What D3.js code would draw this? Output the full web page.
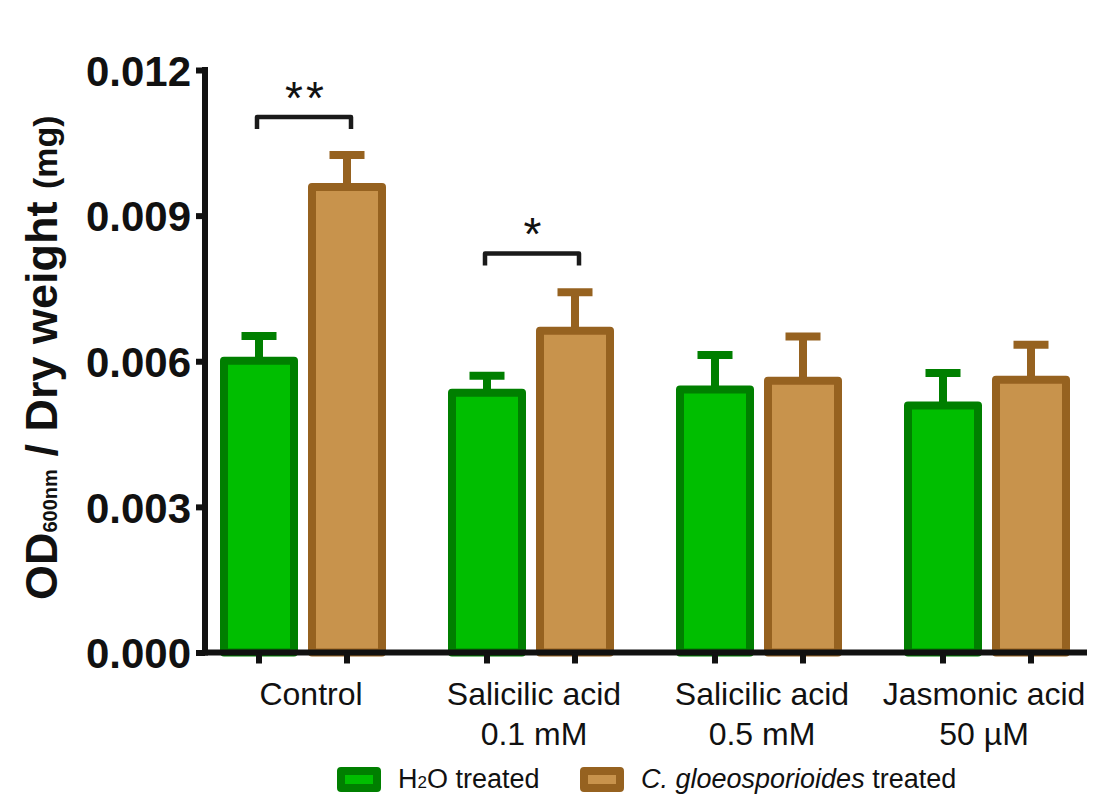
<!DOCTYPE html>
<html>
<head>
<meta charset="utf-8">
<script src="https://cdn.jsdelivr.net/npm/d3@7"></script>
<style>
  html, body { margin: 0; padding: 0; background: #ffffff; }
  svg { display: block; }
  text { font-family: "Liberation Sans", Arial, sans-serif; fill: #111; }
</style>
</head>
<body>
<svg id="chart" width="1094" height="795"></svg>
<script>
// ---- data ----
const categoryLine1 = ["Control", "Salicilic acid", "Salicilic acid", "Jasmonic acid"];
const categoryLine2 = ["", "0.1 mM", "0.5 mM", "50 \u00B5M"];
const seriesNames = ["H2O treated", "C. gloeosporioides treated"];
const h2oMean = [0.00601, 0.00535, 0.00542, 0.00509];
const h2oErr  = [0.00051, 0.00035, 0.00071, 0.00067];
const cgMean  = [0.00959, 0.00663, 0.00560, 0.00562];
const cgErr   = [0.00066, 0.00079, 0.00091, 0.00072];
const yTicks = [0, 0.003, 0.006, 0.009, 0.012];
const yTickLabels = ["0.000", "0.003", "0.006", "0.009", "0.012"];
const sigGroupIdx = [0, 1];
const sigLabels = ["**", "*"];
const sigLevels = [0.01103, 0.00822];

// ---- styles ----
const fills = ["#00BE00", "#C8934C"];
const strokes = ["#007F00", "#966220"];
const barW = 70, barStroke = 8;
const labelNudge = [8, 3, 3, -3];

const svg = d3.select("#chart");

const y = d3.scaleLinear().domain([0, 0.012]).range([652.5, 70]);
const x0 = d3.scaleBand().domain(d3.range(categoryLine1.length)).range([189, 1101]).padding(0);
const x1 = d3.scaleBand().domain(d3.range(seriesNames.length)).range([-88, 88]).padding(0);

const bars = [];
categoryLine1.forEach((c, i) => {
  bars.push({g: i, s: 0, v: h2oMean[i], e: h2oErr[i]});
  bars.push({g: i, s: 1, v: cgMean[i], e: cgErr[i]});
});
const cx = d => x0(d.g) + x0.bandwidth() / 2 + x1(d.s) + x1.bandwidth() / 2;

// error bars (upper only)
const eb = svg.append("g");
bars.forEach(d => {
  const col = strokes[d.s];
  eb.append("line")
    .attr("x1", cx(d)).attr("x2", cx(d))
    .attr("y1", y(d.v)).attr("y2", y(d.v + d.e))
    .attr("stroke", col).attr("stroke-width", 8);
  eb.append("line")
    .attr("x1", cx(d) - 17.5).attr("x2", cx(d) + 17.5)
    .attr("y1", y(d.v + d.e)).attr("y2", y(d.v + d.e))
    .attr("stroke", col).attr("stroke-width", 8);
});

// bars
svg.append("g").selectAll("rect").data(bars).join("rect")
  .attr("x", d => cx(d) - barW / 2)
  .attr("width", barW)
  .attr("y", d => y(d.v))
  .attr("height", d => y(0) - y(d.v))
  .attr("fill", d => fills[d.s])
  .attr("stroke", d => strokes[d.s])
  .attr("stroke-width", barStroke)
  .attr("stroke-linejoin", "round");

// axes
const axisCol = "#111";
const yAxis = d3.axisLeft(y).tickValues(yTicks).tickFormat((d, i) => yTickLabels[i]).tickSize(9).tickPadding(5);
const gy = svg.append("g").attr("transform", "translate(205,0)").call(yAxis);
gy.select(".domain").remove();
gy.selectAll(".tick line").attr("stroke", axisCol).attr("stroke-width", 6);
gy.selectAll(".tick text")
  .attr("font-size", 42).attr("font-weight", "bold")
  .attr("font-family", "'Liberation Sans', Arial, sans-serif")
  .attr("fill", axisCol).attr("dy", "0.36em");

svg.append("line").attr("x1", 205).attr("x2", 205)
  .attr("y1", y(0.012) - 3).attr("y2", y(0) + 3)
  .attr("stroke", axisCol).attr("stroke-width", 6);
svg.append("line").attr("x1", 202).attr("x2", 1087)
  .attr("y1", y(0)).attr("y2", y(0))
  .attr("stroke", axisCol).attr("stroke-width", 6);

// x ticks at each bar
svg.append("g").selectAll("line").data(bars).join("line")
  .attr("x1", cx).attr("x2", cx)
  .attr("y1", y(0)).attr("y2", y(0) + 11)
  .attr("stroke", axisCol).attr("stroke-width", 6);

// x category labels
const xl = svg.append("g");
categoryLine1.forEach((c, i) => {
  const gx = x0(i) + x0.bandwidth() / 2 + labelNudge[i];
  xl.append("text").attr("x", gx).attr("y", 705).attr("text-anchor", "middle")
    .attr("font-size", 32).text(c);
  if (categoryLine2[i]) {
    xl.append("text").attr("x", gx).attr("y", 745).attr("text-anchor", "middle")
      .attr("font-size", 32).text(categoryLine2[i]);
  }
});

// y title
const yt = svg.append("text")
  .attr("transform", "translate(57,600) rotate(-90)")
  .attr("text-anchor", "start")
  .attr("font-weight", "bold").attr("font-size", 45);
yt.append("tspan").text("OD");
yt.append("tspan").attr("font-size", 20).text("600nm");
yt.append("tspan").text(" / Dry weight ");
yt.append("tspan").attr("font-size", 34).text("(mg)");

// significance brackets
sigGroupIdx.forEach((gi, k) => {
  const xa = cx({g: gi, s: 0}) - 2;
  const xb = cx({g: gi, s: 1}) + 4;
  const yy = y(sigLevels[k]);
  svg.append("path")
    .attr("d", `M${xa},${yy + 12}V${yy}H${xb}V${yy + 12}`)
    .attr("fill", "none").attr("stroke", "#1a1a1a").attr("stroke-width", 4.5)
    .attr("stroke-linejoin", "round");
  svg.append("text").attr("x", (xa + xb) / 2 + 2).attr("y", yy - 3)
    .attr("text-anchor", "middle").attr("font-size", 46).attr("letter-spacing", 3)
    .text(sigLabels[k]);
});

// legend
const legX = [341, 584];
const legTextX = [398, 641];
seriesNames.forEach((s, i) => {
  svg.append("rect").attr("x", legX[i]).attr("y", 771).attr("width", 36).attr("height", 17)
    .attr("fill", fills[i]).attr("stroke", strokes[i]).attr("stroke-width", 8)
    .attr("stroke-linejoin", "round");
  const t = svg.append("text").attr("x", legTextX[i]).attr("y", 788).attr("font-size", 27);
  if (i === 0) {
    t.append("tspan").text("H");
    t.append("tspan").attr("font-size", 17).text("2");
    t.append("tspan").text("O treated");
  } else {
    t.append("tspan").attr("font-style", "italic").text("C. gloeosporioides");
    t.append("tspan").text(" treated");
  }
});
</script>
</body>
</html>
